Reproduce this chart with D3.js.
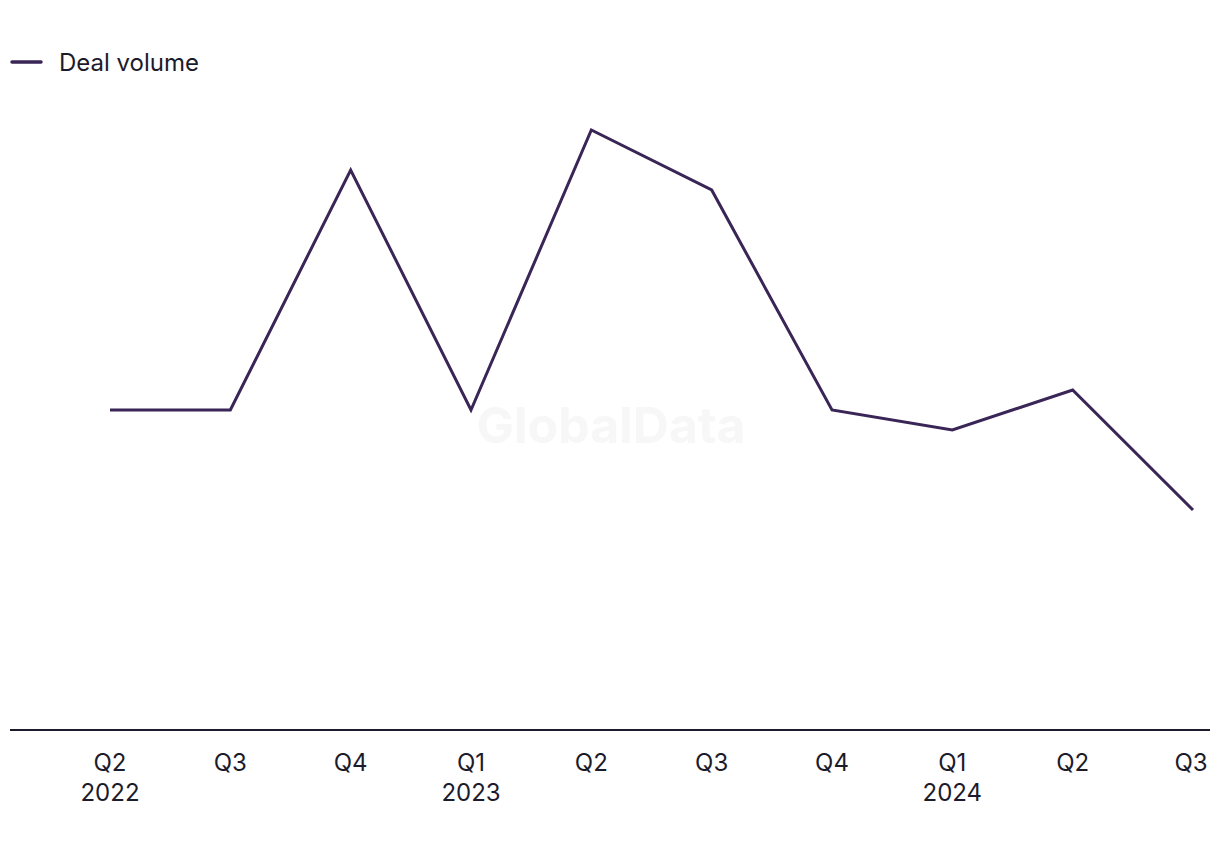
<!DOCTYPE html>
<html>
<head>
<meta charset="utf-8">
<script src="https://cdn.jsdelivr.net/npm/d3@7"></script>
<style>
  html, body { margin: 0; padding: 0; background: #ffffff; }
  svg { display: block; font-family: Inter, "Noto Sans", sans-serif; }
</style>
</head>
<body>
<svg id="chart" width="1220" height="850"></svg>
<script>
const quarters = ["Q2", "Q3", "Q4", "Q1", "Q2", "Q3", "Q4", "Q1", "Q2", "Q3"];
const years = ["2022", "", "", "2023", "", "", "", "2024", "", ""];
const dealVolume = [16, 16, 28, 16, 30, 27, 16, 15, 17, 11];
const seriesName = "Deal volume";

const svg = d3.select("#chart");
const lineColor = "#3a2557";
const textColor = "#1c1b2b";

const idx = d3.range(dealVolume.length);
const x = d3.scalePoint().domain(idx).range([110, 1193]);
const y = d3.scaleLinear().domain([0, 32]).range([730, 90]);

// watermark
svg.append("text")
  .attr("x", 611).attr("y", 443)
  .attr("text-anchor", "middle")
  .attr("font-size", 50).attr("font-weight", 700)
  .attr("fill", "#f7f7f7")
  .text("GlobalData");

// baseline axis
svg.append("line")
  .attr("x1", 10).attr("x2", 1210)
  .attr("y1", y(0)).attr("y2", y(0))
  .attr("stroke", textColor).attr("stroke-width", 2);

// x labels
const lbl = svg.append("g").attr("font-size", 24).attr("fill", textColor).attr("text-anchor", "middle");
idx.forEach(i => {
  const xi = i === idx.length - 1 ? x(i) - 2 : x(i);
  const t = lbl.append("text").attr("x", xi).attr("y", 771);
  t.append("tspan").attr("x", xi).attr("dy", 0).text(quarters[i]);
  if (years[i]) t.append("tspan").attr("x", xi).attr("dy", 30).text(years[i]);
});

// line
const line = d3.line().x(i => x(i)).y(i => y(dealVolume[i]));
svg.append("path")
  .datum(idx)
  .attr("d", line)
  .attr("fill", "none")
  .attr("stroke", lineColor)
  .attr("stroke-width", 3)
  .attr("stroke-linejoin", "miter");

// legend
svg.append("line")
  .attr("x1", 12).attr("x2", 41).attr("y1", 62).attr("y2", 62)
  .attr("stroke", lineColor).attr("stroke-width", 3.5).attr("stroke-linecap", "round");
svg.append("text")
  .attr("x", 59).attr("y", 70.5)
  .attr("font-size", 24).attr("fill", textColor)
  .text(seriesName);
</script>
</body>
</html>
